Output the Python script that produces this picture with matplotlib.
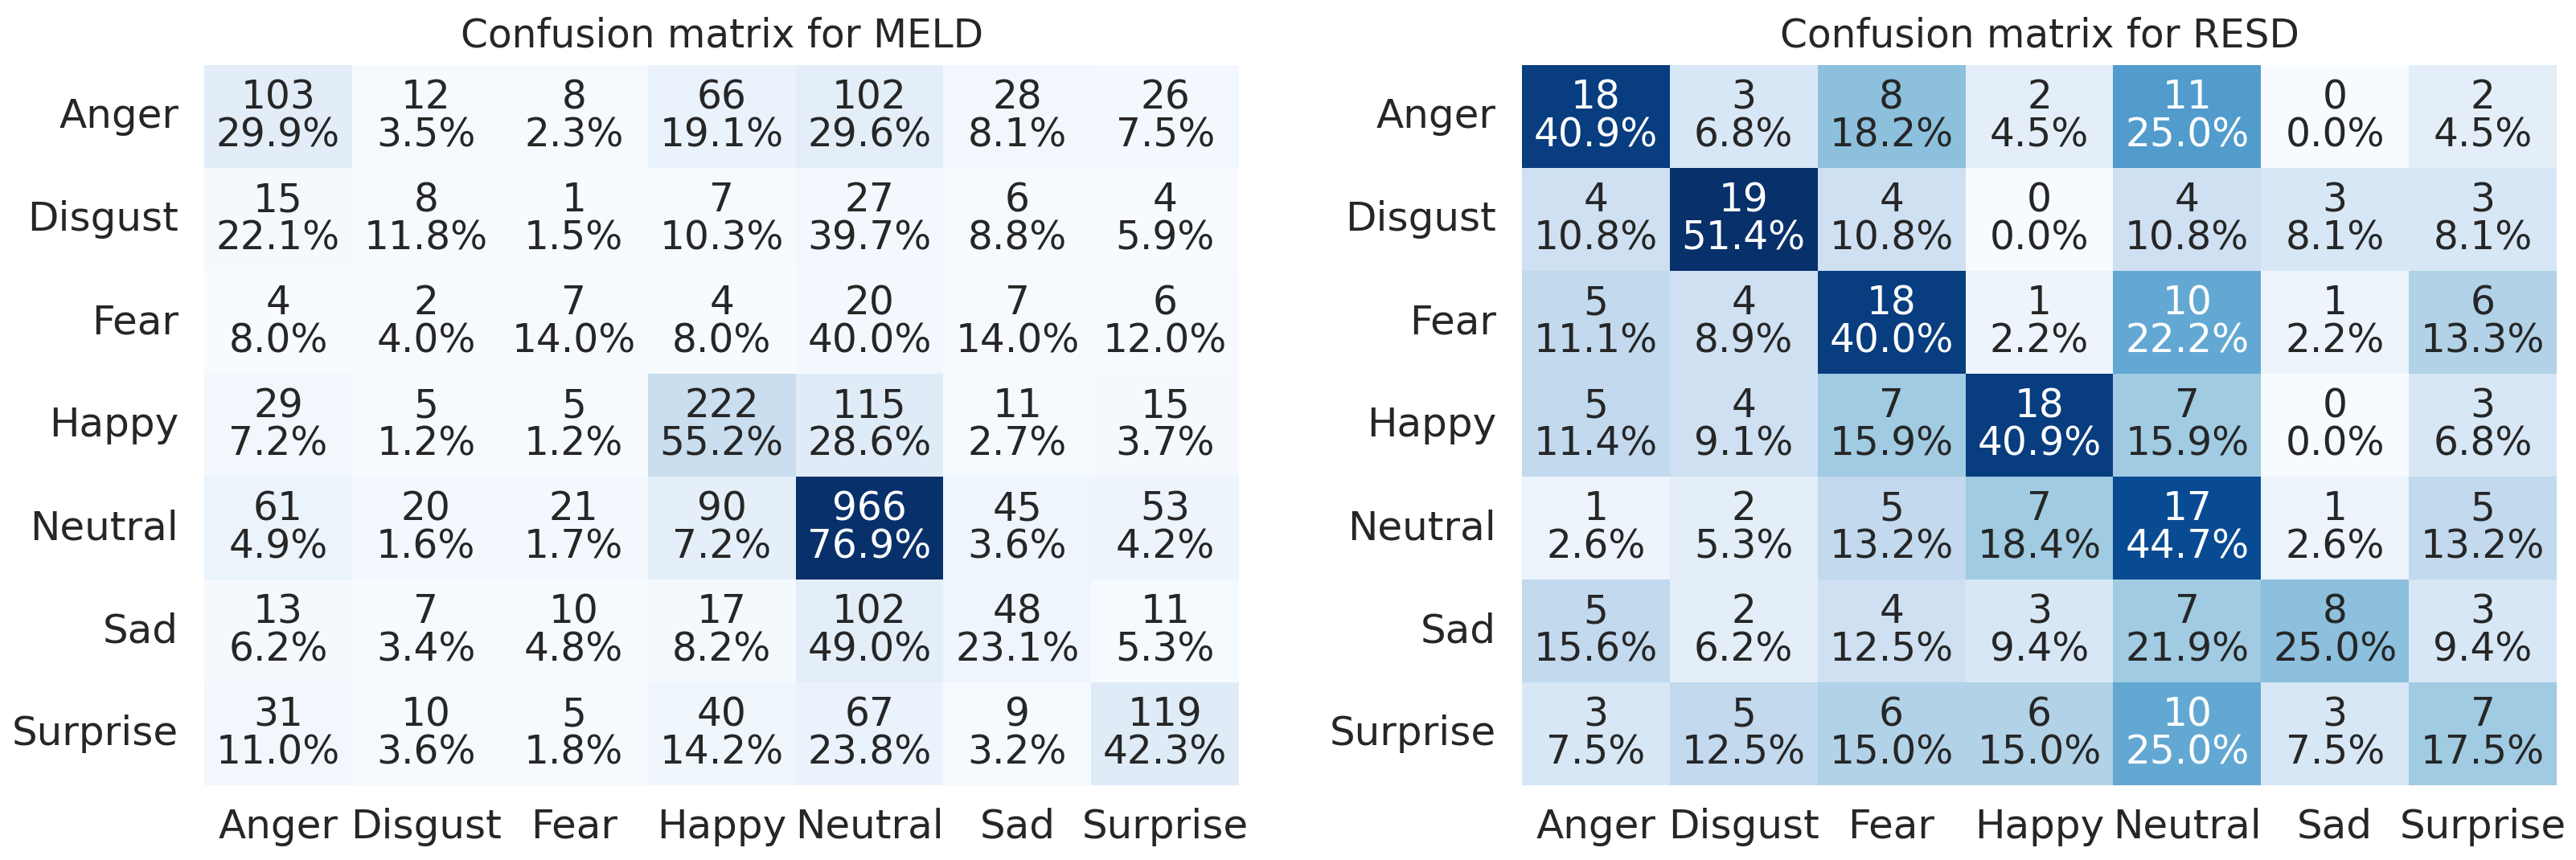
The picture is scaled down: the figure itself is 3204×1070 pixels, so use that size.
import numpy as np
import matplotlib
matplotlib.use("Agg")
import matplotlib.pyplot as plt
import seaborn as sns

sns.set_theme(style="white")
plt.rcParams['font.family'] = ['DejaVu Sans']

labels = ['Anger', 'Disgust', 'Fear', 'Happy', 'Neutral', 'Sad', 'Surprise']

# confusion matrix counts (rows = true, cols = predicted)
meld_counts = [
    [103, 12, 8, 66, 102, 28, 26],
    [15, 8, 1, 7, 27, 6, 4],
    [4, 2, 7, 4, 20, 7, 6],
    [29, 5, 5, 222, 115, 11, 15],
    [61, 20, 21, 90, 966, 45, 53],
    [13, 7, 10, 17, 102, 48, 11],
    [31, 10, 5, 40, 67, 9, 119],
]
resd_counts = [
    [18, 3, 8, 2, 11, 0, 2],
    [4, 19, 4, 0, 4, 3, 3],
    [5, 4, 18, 1, 10, 1, 6],
    [5, 4, 7, 18, 7, 0, 3],
    [1, 2, 5, 7, 17, 1, 5],
    [5, 2, 4, 3, 7, 8, 3],
    [3, 5, 6, 6, 10, 3, 7],
]


def annot_labels(counts):
    # "count\nrow %" for every cell
    cm = np.array(counts)
    pct = cm / cm.sum(axis=1, keepdims=True) * 100
    return np.array([[f"{c}\n{p:.1f}%" for c, p in zip(rc, rp)]
                     for rc, rp in zip(cm, pct)])


fig = plt.figure(figsize=(16.02, 5.35), dpi=200)
ax1 = fig.add_axes([0.0793, 0.0869, 0.4017, 0.8374])
ax2 = fig.add_axes([0.5908, 0.0869, 0.4017, 0.8374])

for ax, counts, name in [(ax1, meld_counts, 'MELD'), (ax2, resd_counts, 'RESD')]:
    sns.heatmap(np.array(counts), annot=annot_labels(counts), fmt='',
                cmap='Blues', cbar=False, ax=ax,
                xticklabels=labels, yticklabels=labels,
                annot_kws={'fontsize': 17.5, 'linespacing': 0.98})
    ax.set_title(f'Confusion matrix for {name}', fontsize=17.5, pad=8)
    ax.tick_params(axis='both', length=0, labelsize=18)
    ax.tick_params(axis='x', pad=10)
    ax.tick_params(axis='y', pad=11.5)
    ax.set_yticklabels(labels, rotation=0)
    ax.set_xticklabels(labels, rotation=0)

fig.savefig('out.png', dpi=200)
